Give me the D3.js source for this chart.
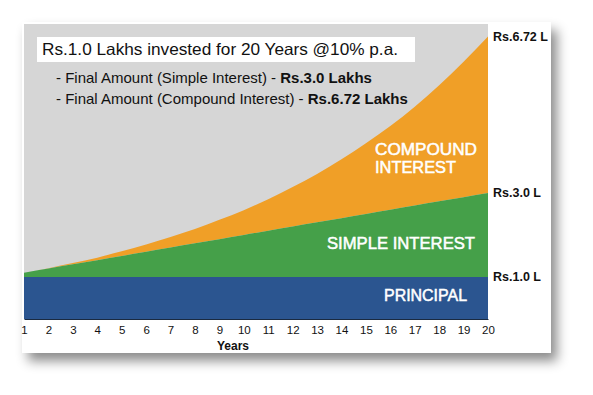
<!DOCTYPE html>
<html>
<head>
<meta charset="utf-8">
<script src="https://cdn.jsdelivr.net/npm/d3@7/dist/d3.min.js"></script>
<style>
  html, body { margin: 0; padding: 0; background: #ffffff; }
  svg { display: block; font-family: "Liberation Sans", Arial, Helvetica, sans-serif; }
</style>
</head>
<body>
<svg id="chart" width="593" height="395"></svg>
<script>
const years = [1,2,3,4,5,6,7,8,9,10,11,12,13,14,15,16,17,18,19,20];
const principal = [1,1,1,1,1,1,1,1,1,1,1,1,1,1,1,1,1,1,1,1];
const simpleAmount = [1.1,1.2,1.3,1.4,1.5,1.6,1.7,1.8,1.9,2.0,2.1,2.2,2.3,2.4,2.5,2.6,2.7,2.8,2.9,3.0];
const compoundAmount = [1.1,1.21,1.33,1.46,1.61,1.77,1.95,2.14,2.36,2.59,2.85,3.14,3.45,3.80,4.18,4.59,5.05,5.56,6.12,6.72];
const endLabels = [
  {text: "Rs.6.72 L", value: 6.72},
  {text: "Rs.3.0 L", value: 3.0},
  {text: "Rs.1.0 L", value: 1.0}
];
const titleText = "Rs.1.0 Lakhs invested for 20 Years @10% p.a.";
const subLines = [
  {plain: "- Final Amount (Simple Interest) - ", bold: "Rs.3.0 Lakhs"},
  {plain: "- Final Amount (Compound Interest) - ", bold: "Rs.6.72 Lakhs"}
];

const svg = d3.select("#chart");
const defs = svg.append("defs");
const f = defs.append("filter").attr("id","shadow").attr("x","-10%").attr("y","-10%").attr("width","130%").attr("height","140%");
f.append("feDropShadow").attr("dx",6).attr("dy",8).attr("stdDeviation",6).attr("flood-color","#000").attr("flood-opacity",0.45);

// card
svg.append("rect").attr("x",22).attr("y",22).attr("width",529).attr("height",331)
  .attr("fill","#fff").attr("filter","url(#shadow)");

const pLeft = 24, pRight = 488, pTop = 24, pBottom = 319;
const x = d3.scaleLinear().domain([1,20]).range([pLeft,pRight]);
const y = d3.scaleLinear().domain([0,7.02]).range([pBottom,pTop]);

// background
svg.append("rect").attr("x",pLeft).attr("y",pTop).attr("width",pRight-pLeft).attr("height",pBottom-pTop).attr("fill","#d6d6d6");

const idx = d3.range(years.length);
const area = (lo, hi) => d3.area()
  .x(i => x(years[i]))
  .y0(i => y(lo[i]))
  .y1(i => y(hi[i]))
  .curve(d3.curveMonotoneX);

const zeros = years.map(() => 0);
svg.append("path").datum(idx).attr("d", area(simpleAmount, compoundAmount)).attr("fill","#f09f27");
svg.append("path").datum(idx).attr("d", area(principal, simpleAmount)).attr("fill","#45a049");
svg.append("path").datum(idx).attr("d", area(zeros, principal)).attr("fill","#2b5590");

// axis
const axis = d3.axisBottom(x).tickValues(years).tickSize(0).tickPadding(7).tickFormat(d3.format("d"));
const gA = svg.append("g").attr("transform",`translate(0,${pBottom})`).call(axis);
gA.select(".domain").attr("stroke","#1a2a40").attr("stroke-width",1.2);
gA.selectAll("text").attr("font-size",11.5).attr("fill","#111").attr("font-family","Liberation Sans, Arial, sans-serif");
svg.append("text").attr("x",233).attr("y",350).attr("text-anchor","middle")
  .attr("font-size",12).attr("font-weight","bold").attr("fill","#111").text("Years");

// end labels
svg.selectAll(".endlbl").data(endLabels).enter().append("text")
  .attr("x",493).attr("y",(d,i) => i===0 ? 41 : y(d.value)+4)
  .attr("font-size",12.5).attr("font-weight","bold").attr("fill","#111").text(d => d.text);

// title box
svg.append("rect").attr("x",37).attr("y",37).attr("width",378).attr("height",25).attr("fill","#fff");
svg.append("text").attr("x",42).attr("y",55).attr("font-size",16.5).attr("fill","#111")
  .attr("textLength",356).attr("lengthAdjust","spacingAndGlyphs").text(titleText);
subLines.forEach((s,i) => {
  const t = svg.append("text").attr("x",56).attr("y",83 + i*21).attr("font-size",15).attr("fill","#111");
  t.append("tspan").text(s.plain);
  t.append("tspan").attr("font-weight","bold").text(s.bold);
});

// area labels
const lbl = (txt, xx, yy, w) => svg.append("text").attr("x",xx).attr("y",yy).attr("font-size",16)
  .attr("fill","#fff").attr("stroke","#fff").attr("stroke-width",0.5)
  .attr("textLength",w).attr("lengthAdjust","spacingAndGlyphs").text(txt);
lbl("COMPOUND", 375, 155, 102);
lbl("INTEREST", 375, 173, 81);
lbl("SIMPLE INTEREST", 327, 249, 148);
lbl("PRINCIPAL", 384, 301, 83);
</script>
</body>
</html>
